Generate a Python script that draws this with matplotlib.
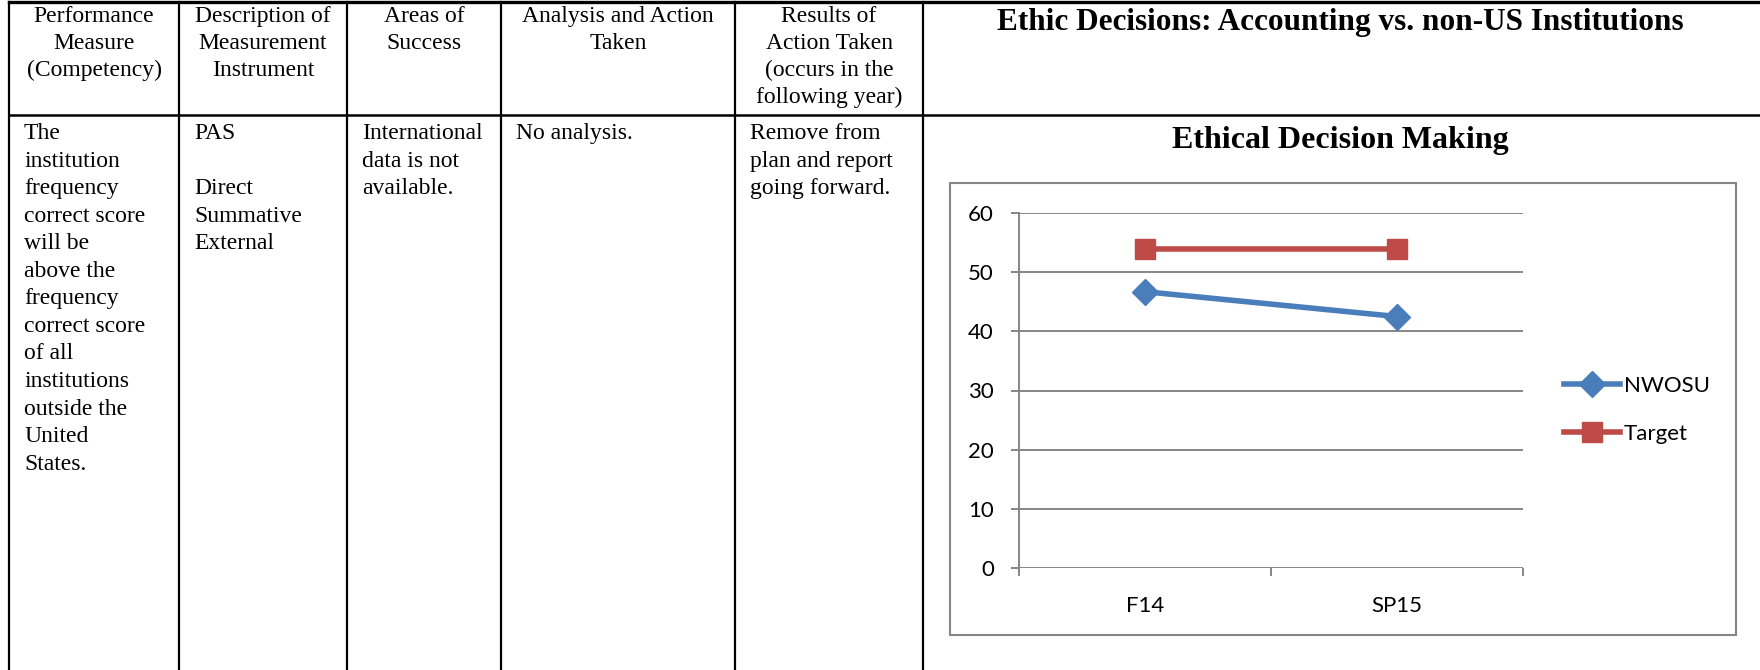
import matplotlib
matplotlib.use("Agg")
import matplotlib.pyplot as plt
from matplotlib.patches import Rectangle

# table text
headers = [
    "Performance\nMeasure\n(Competency)",
    "Description of\nMeasurement\nInstrument",
    "Areas of\nSuccess",
    "Analysis and Action\nTaken",
    "Results of\nAction Taken\n(occurs in the\nfollowing year)",
]
row_cells = [
    "The\ninstitution\nfrequency\ncorrect score\nwill be\nabove the\nfrequency\ncorrect score\nof all\ninstitutions\noutside the\nUnited\nStates.",
    "PAS\n\nDirect\nSummative\nExternal",
    "International\ndata is not\navailable.",
    "No analysis.",
    "Remove from\nplan and report\ngoing forward.",
]
section_title = "Ethic Decisions: Accounting vs. non-US Institutions"

# chart data
chart_title = "Ethical Decision Making"
terms = ["F14", "SP15"]
nwosu = [46.7, 42.5]
target = [54, 54]

W, H = 1760, 670
fig = plt.figure(figsize=(W / 100, H / 100), dpi=100)


def fx(px):
    return px / W


def fy(py):
    return 1 - py / H


serif = "Liberation Serif"
col_x = [9, 179, 347, 501, 735, 923]

# table grid
for x in col_x:
    fig.add_artist(plt.Line2D([fx(x), fx(x)], [fy(2), 0], color="black", lw=1.6))
fig.add_artist(plt.Line2D([fx(col_x[0]), 1], [fy(2), fy(2)], color="black", lw=2.4))
fig.add_artist(plt.Line2D([fx(col_x[0]), 1], [fy(115), fy(115)], color="black", lw=1.8))

for i, txt in enumerate(headers):
    cx = (col_x[i] + col_x[i + 1]) / 2
    fig.text(fx(cx), fy(6), txt, ha="center", va="top", multialignment="center",
             family=serif, fontsize=17, linespacing=1.36)
for i, txt in enumerate(row_cells):
    fig.text(fx(col_x[i] + 15), fy(123), txt, ha="left", va="top",
             family=serif, fontsize=17, linespacing=1.41)

fig.text(fx(1340), fy(30), section_title, ha="center", va="baseline",
         family=serif, fontsize=22.5, weight="bold")
fig.text(fx(1340), fy(148), chart_title, ha="center", va="baseline",
         family=serif, fontsize=23, weight="bold")

# chart frame
grey = "#868686"
fig.add_artist(Rectangle((fx(950), fy(635)), fx(1736) - fx(950), fy(183) - fy(635),
                         transform=fig.transFigure, fill=False, edgecolor=grey, lw=1.5))

ax = fig.add_axes([fx(1019), fy(568), fx(1523) - fx(1019), fy(213) - fy(568)])
x = list(range(len(terms)))
ax.plot(x, nwosu, color="#4A7EBB", lw=4, marker="D", ms=13, label="NWOSU", zorder=3)
ax.plot(x, target, color="#BE4B48", lw=4, marker="s", ms=15, label="Target", zorder=3)

ax.set_xlim(-0.5, 1.5)
ax.set_ylim(0, 60)
ax.set_yticks(range(0, 61, 10))
ax.yaxis.grid(True, color=grey, lw=1.4)
ax.set_axisbelow(True)
for s in ["top", "right", "bottom"]:
    ax.spines[s].set_visible(False)
ax.spines["left"].set_color(grey)
ax.spines["left"].set_linewidth(1.4)

ax.set_xticks(x, terms)
ax.set_xticks([-0.5, 0.5, 1.5], minor=True)
ax.tick_params(axis="x", which="major", length=0, pad=20)
ax.tick_params(axis="x", which="minor", length=6, width=1.4, color=grey, direction="out")
ax.tick_params(axis="y", length=6, width=1.4, color=grey, pad=12)
for lab in ax.get_xticklabels() + ax.get_yticklabels():
    lab.set_family("Lato")
    lab.set_fontsize(16)

ax.legend(loc="center left", bbox_to_anchor=(fx(1544), fy(410)),
          bbox_transform=fig.transFigure, frameon=False,
          prop={"family": "Lato", "size": 16}, handlelength=2.5,
          handletextpad=0.2, labelspacing=1.25)

fig.savefig("out.png", dpi=100)
